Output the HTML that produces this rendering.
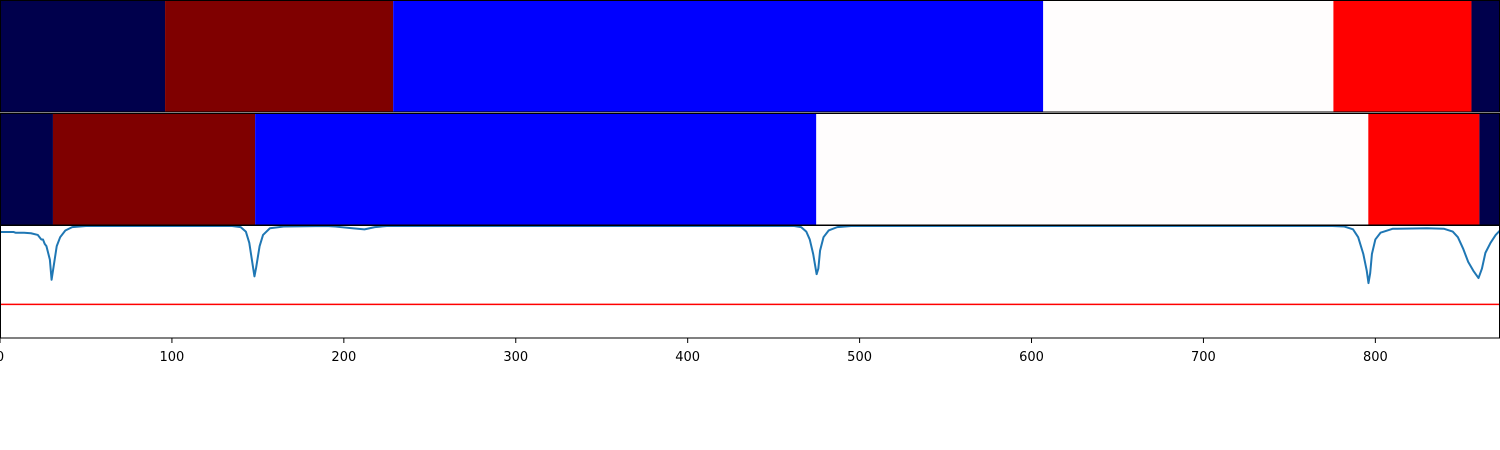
<!DOCTYPE html>
<html><head><meta charset="utf-8"><style>
html,body{margin:0;padding:0;background:#fff;}
svg{display:block;font-family:"DejaVu Sans","Liberation Sans",sans-serif;}
</style></head><body>
<svg id="chart" width="1500" height="450"></svg>
<script>
// ---- data ----
const xMax = 872.5;
const row1Bounds = [0, 96, 228.7, 606.8, 775.6, 855.9, 872.5];
const row1Colors = ["#00004c", "#7f0000", "#0000ff", "#fffdfd", "#ff0000", "#00004c"];
const row2Bounds = [0, 30.8, 148.4, 474.8, 795.9, 860.5, 872.5];
const row2Colors = ["#00004c", "#7f0000", "#0000ff", "#fffdfd", "#ff0000", "#00004c"];
const signalX = [0,8,9,14,18,22,24,25,26,27,28,29,30,31,32,33,35,38,42,50,135,140,143,145,147,148,149,151,153,157,165,190,195,205,212,218,225,462,466,469,471,473,475,476,477,479,482,487,495,775,782,787,790,793,795,796,797,798,800,803,810,830,840,845,848,851,854,857,860,862,864,867,870,872.5];
const signalY = [.946,.946,.94,.94,.935,.92,.88,.88,.84,.82,.76,.70,.52,.62,.72,.82,.9,.96,.99,1.0,1.0,.99,.95,.85,.65,.55,.63,.82,.92,.98,.995,1.0,.995,.98,.97,.99,1.0,1.0,.99,.95,.88,.75,.57,.62,.78,.9,.96,.99,1.0,1.0,.995,.97,.9,.75,.6,.49,.58,.75,.88,.94,.975,.98,.975,.95,.9,.8,.68,.6,.535,.62,.76,.85,.92,.96];
const threshold = 0.3;
const xTicks = [0,100,200,300,400,500,600,700,800];

// ---- scales ----
const W = 1500;
const sx = v => v / xMax * W;
const p3Top = 226, p3Bot = 338;
const sy = v => p3Bot - v * (p3Bot - p3Top);
const NS = "http://www.w3.org/2000/svg";
const svg = document.getElementById("chart");
function mk(tag, attrs){ const e = document.createElementNS(NS, tag); for (const k in attrs) e.setAttribute(k, attrs[k]); svg.appendChild(e); return e; }

function band(bounds, colors, top, h, nm){
  for (let i = 0; i < colors.length; i++){
    const r = mk("rect", {x: sx(bounds[i]), y: top, width: sx(bounds[i+1]) - sx(bounds[i]), height: h, fill: colors[i]});
    
    
  }
  const b = mk("rect", {x: 0.5, y: top + 0.5, width: W - 1, height: h - 1, fill: "none", stroke: "#000", "stroke-width": 1});
  
  
}
band(row1Bounds, row1Colors, 0, 112.5, "label-row-1");
band(row2Bounds, row2Colors, 113, 112.5, "label-row-2");

// threshold
const th = mk("line", {x1: 0, x2: W, y1: sy(threshold), y2: sy(threshold), stroke: "#ff0000", "stroke-width": 1.5});



// signal
let d = "";
signalX.forEach((x, i) => { d += (i ? "L" : "M") + sx(x).toFixed(2) + "," + sy(signalY[i]).toFixed(2); });
const pl = mk("path", {d: d, fill: "none", stroke: "#1f77b4", "stroke-width": 2, "stroke-linejoin": "round"});



// frame panel 3
const f3 = mk("rect", {x: 0.5, y: 225.5, width: W - 1, height: 112.5, fill: "none", stroke: "#000", "stroke-width": 1});



// ticks
xTicks.forEach(t => {
  const x = sx(t);
  const tl = mk("line", {x1: x, x2: x, y1: 338, y2: 343, stroke: "#000", "stroke-width": 1});
  
  
  const tx = mk("text", {x: x, y: 361, "text-anchor": "middle", "font-size": 13, fill: "#000"});
  tx.textContent = t;
  
  
});
</script>
</body></html>
